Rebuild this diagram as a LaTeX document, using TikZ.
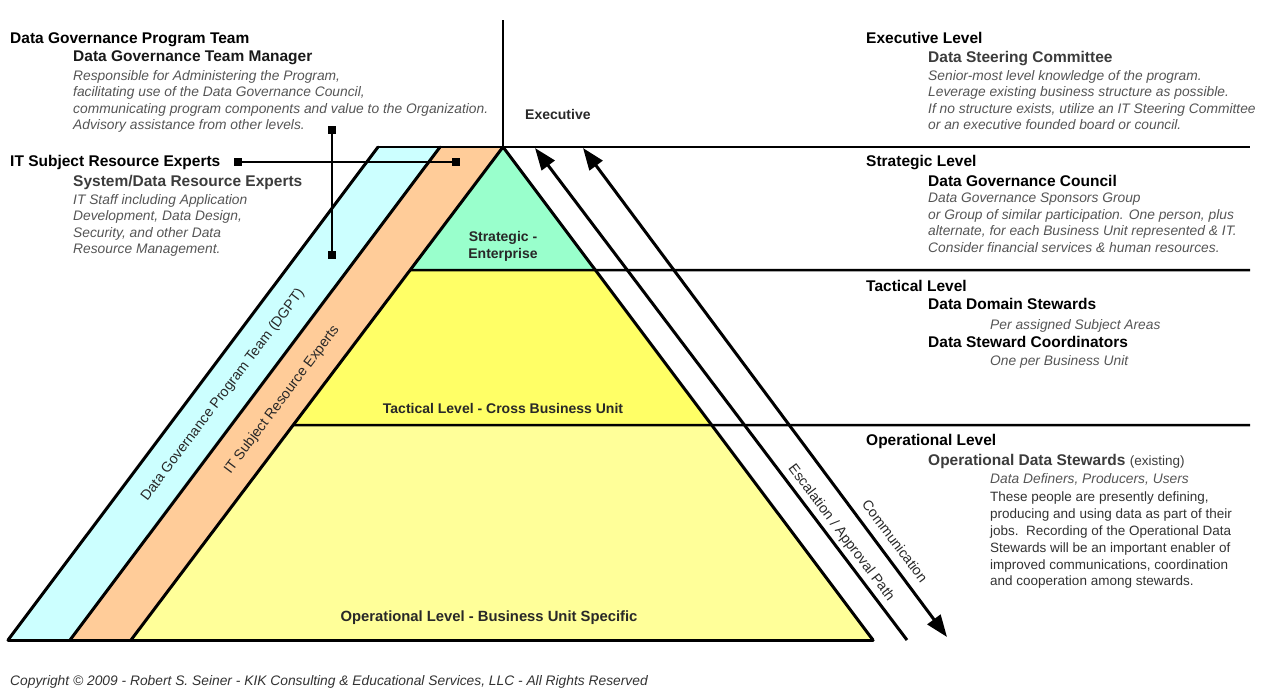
\documentclass[tikz,border=0pt]{standalone}
\usepackage{fontspec}
\setmainfont{Liberation Sans}
\usetikzlibrary{arrows.meta,calc}
\definecolor{bandblue}{RGB}{204,255,255}
\definecolor{bandorange}{RGB}{255,204,153}
\definecolor{stratgreen}{RGB}{153,255,204}
\definecolor{tactyellow}{RGB}{255,255,102}
\definecolor{opyellow}{RGB}{255,255,153}
\definecolor{subgray}{RGB}{60,60,60}
\definecolor{itgray}{RGB}{85,85,85}
\definecolor{plgray}{RGB}{50,50,50}
\definecolor{lblgray}{RGB}{40,40,40}
\begin{document}
\begin{tikzpicture}[x=1pt,y=-1pt,
  hd/.style={anchor=north west, inner sep=0pt, font=\fontsize{15.5}{18}\selectfont\bfseries, text=black},
  sub/.style={hd, text=subgray},
  itx/.style={anchor=north west, inner sep=0pt, align=left, font=\fontsize{13.8}{16.5}\selectfont\itshape, text=itgray},
  plx/.style={anchor=north west, inner sep=0pt, align=left, font=\fontsize{13.5}{16.8}\selectfont, text=plgray},
  lvl/.style={font=\fontsize{14}{17}\selectfont\bfseries, align=center, text=lblgray, inner sep=0pt},
  slant/.style={font=\fontsize{14.2}{17}\selectfont, text=lblgray, inner sep=0pt},
  bandline/.style={line width=3pt, line join=round, line cap=round},
  levelline/.style={line width=2.5pt},
  conn/.style={line width=2pt},
  sq/.style={fill=black, minimum size=8pt, inner sep=0pt},
  tipb/.tip={Triangle[length=22pt,width=16pt]},
]
\useasboundingbox (0,0) rectangle (1261,697);
% geometry
\coordinate (A) at (503,147);
\coordinate (BL) at (131,640);
\coordinate (BR) at (873,640);
\coordinate (T1) at (503,20);
\coordinate (S1) at ($(A)!0.2495!(BL)$);
\coordinate (S2) at ($(A)!0.2495!(BR)$);
\coordinate (O1) at ($(A)!0.5639!(BL)$);
\coordinate (O2) at ($(A)!0.5639!(BR)$);
\coordinate (R0) at (1250,147);
\coordinate (R1) at (1250,270);
\coordinate (R2) at (1250,425);
\coordinate (B1) at (8,640);
\coordinate (B2) at (378,147);
\coordinate (B3) at (440,147);
\coordinate (B4) at (70,640);
% fills
\fill[bandblue] (B1) -- (B2) -- (B3) -- (B4) -- cycle;
\fill[bandorange] (B4) -- (B3) -- (A) -- (BL) -- cycle;
\fill[stratgreen] (A) -- (S2) -- (S1) -- cycle;
\fill[tactyellow] (S1) -- (S2) -- (O2) -- (O1) -- cycle;
\fill[opyellow] (O1) -- (O2) -- (BR) -- (BL) -- cycle;
% outlines
\draw[levelline] (S1) -- (R1);
\draw[levelline] (O1) -- (R2);
\draw[levelline] (B2) -- (R0);
\draw[levelline] (T1) -- (A);
\draw[bandline] (B1) -- (B2);
\draw[bandline] (B4) -- (B3);
\draw[bandline] (BL) -- (A) -- (BR);
\draw[bandline] (B1) -- (BR);
% arrows
\coordinate (E1) at (907,640);
\coordinate (E2) at (535,148);
\coordinate (C1) at (583,148);
\coordinate (C2) at (947,637);
\draw[line width=3pt, -tipb] (E1) -- (E2);
\draw[line width=3pt, tipb-tipb] (C1) -- (C2);
\node[slant, rotate=-53] (esc) at (841,533) {Escalation / Approval Path};
\node[slant, rotate=-53] (com) at (895,541) {Communication};
% band labels
\node[slant, rotate=53] (dgptlbl) at (223,395) {Data Governance Program Team (DGPT)};
\node[slant, rotate=53] (itlbl) at (282,400) {IT Subject Resource Experts};
% pyramid labels
\node[lvl] (strat) at (503,246) {Strategic -\\Enterprise};
\node[lvl] (tact) at (503,408) {Tactical Level - Cross Business Unit};
\node[lvl, font=\fontsize{14.8}{17}\selectfont\bfseries] (oper) at (489,618) {Operational Level - Business Unit Specific};
\node[lvl, anchor=west] (exec) at (525,114) {Executive};
% connectors
\node[sq] (q1) at (332,130) {};
\node[sq] (q2) at (332,255) {};
\node[sq] (q3) at (238,162) {};
\node[sq] (q4) at (456,162) {};
\draw[conn] (q1) -- (q2);
\draw[conn] (q3) -- (q4);
% left texts
\node[hd] (h1) at (10,32.3) {Data Governance Program Team};
\node[sub, text=black!90] (h1s) at (73,50.3) {Data Governance Team Manager};
\node[itx] (h1t) at (73,70) {Responsible for Administering the Program,\\facilitating use of the Data Governance Council,\\communicating program components and value to the Organization.\\Advisory assistance from other levels.};
\node[hd] (h2) at (10,155.3) {IT Subject Resource Experts};
\node[sub] (h2s) at (73,175.3) {System/Data Resource Experts};
\node[itx] (h2t) at (73,194) {IT Staff including Application\\Development, Data Design,\\Security, and other Data\\Resource Management.};
% right texts
\node[hd] (r1) at (866,32.3) {Executive Level};
\node[sub] (r1s) at (928,51.3) {Data Steering Committee};
\node[itx] (r1t) at (928,70) {Senior-most level knowledge of the program.\\Leverage existing business structure as possible.\\If no structure exists, utilize an IT Steering Committee\\or an executive founded board or council.};
\node[hd] (r2) at (866,155.3) {Strategic Level};
\node[hd] (r2s) at (928,175.3) {Data Governance Council};
\node[itx] (r2t) at (928,193) {Data Governance Sponsors Group\\or Group of similar participation. One person, plus\\alternate, for each Business Unit represented \& IT.\\Consider financial services \& human resources.};
\node[hd] (r3) at (866,280.3) {Tactical Level};
\node[hd] (r3s) at (928,298.3) {Data Domain Stewards};
\node[itx] (r3t) at (990,319) {Per assigned Subject Areas};
\node[hd] (r3u) at (928,336.3) {Data Steward Coordinators};
\node[itx] (r3v) at (990,355) {One per Business Unit};
\node[hd] (r4) at (866,434.3) {Operational Level};
\node[sub] (r4s) at (928,454.3) {Operational Data Stewards {\fontsize{13.5}{16}\selectfont\mdseries(existing)}};
\node[itx] (r4t) at (990,473) {Data Definers, Producers, Users};
\node[plx] (r4u) at (990,492) {These people are presently defining,\\producing and using data as part of their\\jobs.\ \ Recording of the Operational Data\\Stewards will be an important enabler of\\improved communications, coordination\\and cooperation among stewards.};
% copyright
\node[itx, text=plgray] (copy) at (10,675) {Copyright \textcopyright{} 2009 - Robert S. Seiner - KIK Consulting \& Educational Services, LLC - All Rights Reserved};
\end{tikzpicture}
\end{document}
